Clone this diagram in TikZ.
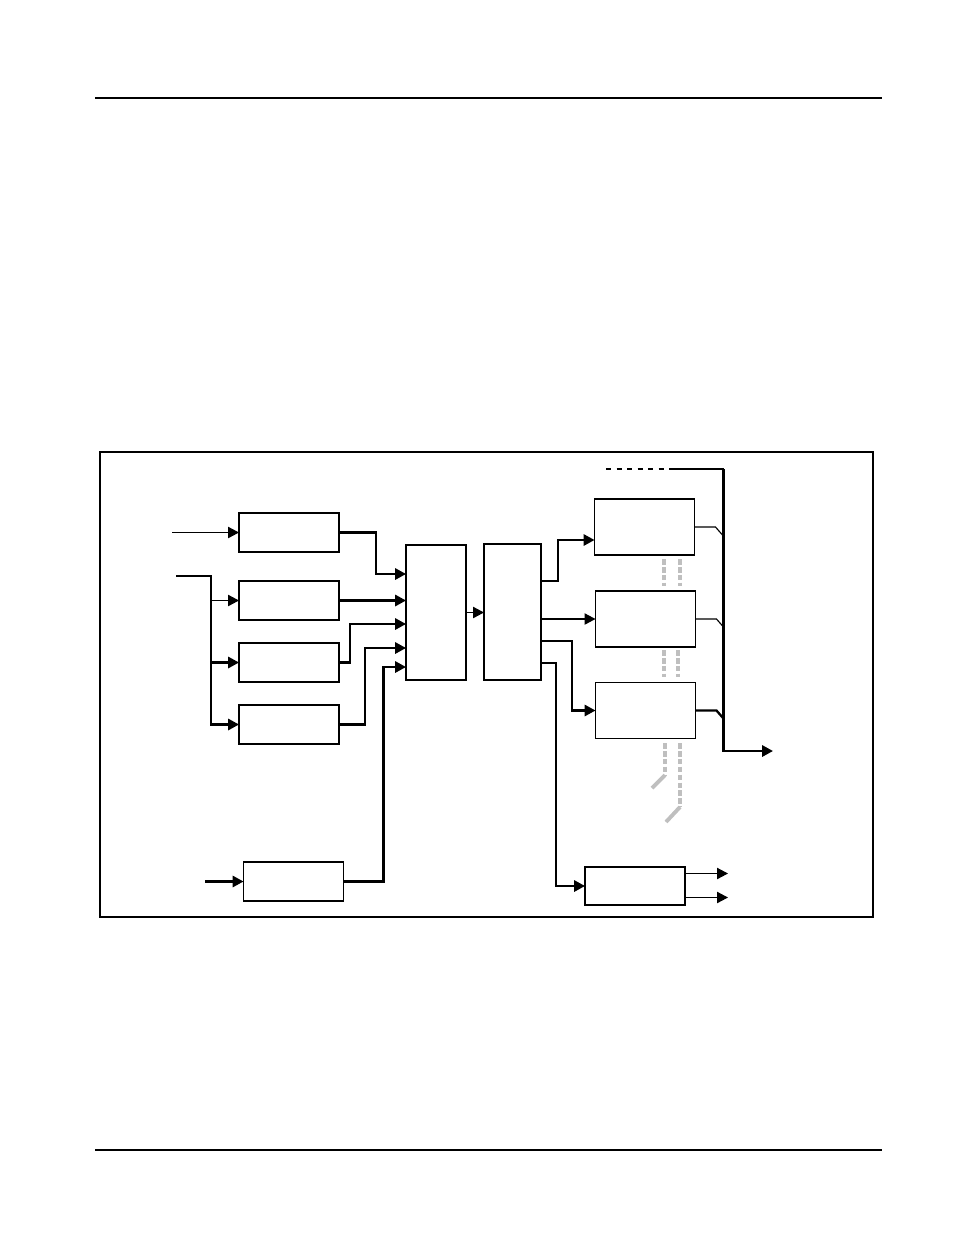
\documentclass[tikz,border=0pt]{standalone}
\usetikzlibrary{calc,positioning,arrows.meta}
\begin{document}
\begin{tikzpicture}[x=0.02cm,y=-0.02cm,
  box/.style={draw,line width=0.8pt,inner sep=0pt,outer sep=0pt},
  blk/.style={box,minimum width=2cm,minimum height=0.78cm},
  tall/.style={box,minimum width=1.2cm,minimum height=2.7cm},
  cbox/.style={box,minimum width=2cm,minimum height=1.12cm},
  arr/.style={-{Triangle[length=6.2pt,width=6.4pt]}},
  thn/.style={line width=0.65pt},
  thk/.style={line width=1.3pt},
  gry/.style={gray!50,line width=2.2pt,dash pattern=on 3.2pt off 1.3pt}]
\useasboundingbox (0,0) rectangle (954,1235);
% page rules and frame
\draw[line width=0.9pt] (95,98) -- (882,98);
\draw[line width=0.9pt] (95,1150) -- (882,1150);
\draw[line width=0.8pt] (100,452) rectangle (873,917);
% boxes
\foreach \i/\y in {1/532.5,2/600.5,3/662.5,4/724.5}
  \node[blk] (a\i) at (289,\y) {};
\node[blk] (e) at (293.5,881.5) {};
\node[tall] (mux) at (436,612.5) {};
\node[tall,minimum width=1.14cm,minimum height=2.72cm] (dmx) at (512.5,612) {};
\node[cbox] (c1) at (644.5,527) {};
\node[cbox] (c2) at (645.5,619) {};
\node[cbox] (c3) at (645.5,710.5) {};
\node[blk,minimum height=0.76cm] (d) at (635,886) {};
% free ends and pins
\coordinate (in1) at (172,532.5);
\coordinate (in2) at (176,576);
\coordinate (sp) at (211,576);
\coordinate (in3) at (205,881.5);
\foreach \n/\y in {p1/574,p3/624,p4/648,p5/667,q1/581,q3/641,q4/663,r1/540}
  \coordinate (\n) at (0,\y);
\coordinate (bt) at (723.5,469);
\coordinate (bb) at (723.5,751);
\coordinate (bo) at (773,751);
% inputs
\draw[thn,arr] (in1) -- (a1.west);
\draw[thk,arr] (in2) -| (sp |- a4.west) -- (a4.west);
\draw[thn,arr] (sp |- a2.west) -- (a2.west);
\draw[thk,arr] (sp |- a3.west) -- (a3.west);
\draw[thk,arr] (in3) -- (e.west);
% into mux
\draw[thk,arr] (a1.east) -- ++(37,0) |- (mux.west |- p1);
\draw[thk,arr] (a2.east) -- (mux.west |- a2.east);
\draw[thk,arr] (a3.east) -- ++(11,0) |- (mux.west |- p3);
\draw[thk,arr] (a4.east) -- ++(26,0) |- (mux.west |- p4);
\draw[thk,arr] (e.east) -- ++(40,0) |- (mux.west |- p5);
\draw[thn,arr] (mux.east) -- (dmx.west |- mux.east);
% out of dmx
\draw[thk,arr] (dmx.east |- q1) -- ++(17,0) |- (c1.west |- r1);
\draw[thn,arr] (dmx.east |- c2.west) -- (c2.west);
\draw[thk,arr] (dmx.east |- q3) -- ++(31,0) |- (c3.west);
\draw[thk,arr] (dmx.east |- q4) -- ++(15,0) |- (d.west);
\draw[thn,arr] ([yshift=0.25cm]d.east) -- ++(43,0);
\draw[thn,arr] ([yshift=-0.23cm]d.east) -- ++(43,0);
% bus
\draw[thn,dashed] (606,469) -- (673,469);
\draw[thn] (673,469) -- (bt);
\draw[thk,arr] (bt) -- (bb) -- (bo);
\foreach \c in {c1,c2}
  \draw[thn] (\c.east) -- ++(21,0) -- ++(7,8);
\draw[thk] (c3.east) -- ++(21,0) -- ++(7,8);
% grey links
\foreach \x/\ya/\yb in {664/559/586,680/559/586,664/650/677,678/650/677}
  \draw[gry] (\x,\ya) -- (\x,\yb);
\draw[gry] (665,743) -- (665,775);
\draw[gry,solid] (665,775) -- (652,788);
\draw[gry] (680,743) -- (680,807);
\draw[gry,solid] (680,807) -- (666,822);
\end{tikzpicture}
\end{document}
